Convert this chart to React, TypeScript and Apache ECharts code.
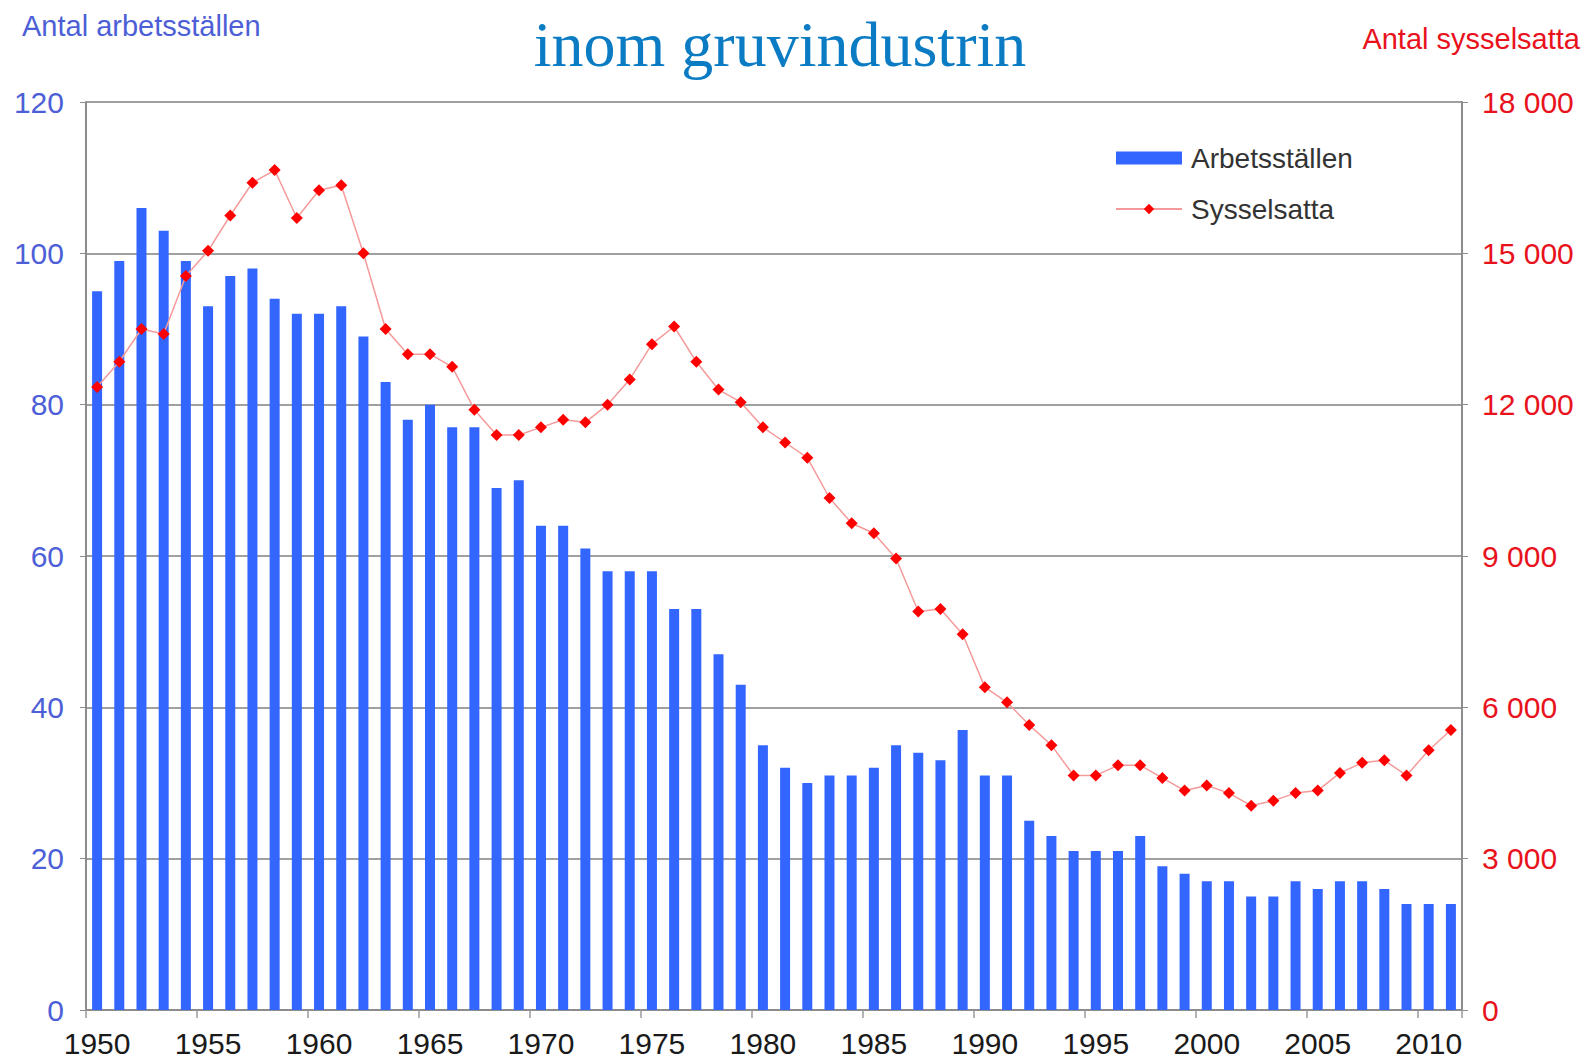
import { useEffect, useRef } from "react";
import * as echarts from "echarts";

const years = [
  "1950", "1951", "1952", "1953", "1954", "1955", "1956", "1957", "1958", "1959",
  "1960", "1961", "1962", "1963", "1964", "1965", "1966", "1967", "1968", "1969",
  "1970", "1971", "1972", "1973", "1974", "1975", "1976", "1977", "1978", "1979",
  "1980", "1981", "1982", "1983", "1984", "1985", "1986", "1987", "1988", "1989",
  "1990", "1991", "1992", "1993", "1994", "1995", "1996", "1997", "1998", "1999",
  "2000", "2001", "2002", "2003", "2004", "2005", "2006", "2007", "2008", "2009",
  "2010", "2011",
];

const arbetsstallen = [
  95, 99, 106, 103, 99, 93, 97, 98, 94, 92,
  92, 93, 89, 83, 78, 80, 77, 77, 69, 70,
  64, 64, 61, 58, 58, 58, 53, 53, 47, 43,
  35, 32, 30, 31, 31, 32, 35, 34, 33, 37,
  31, 31, 25, 23, 21, 21, 21, 23, 19, 18,
  17, 17, 15, 15, 17, 16, 17, 17, 16, 14,
  14, 14,
];

const sysselsatta = [
  12350, 12850, 13500, 13400, 14550, 15050, 15750, 16400, 16650, 15700,
  16250, 16350, 15000, 13500, 13000, 13000, 12750, 11900, 11400, 11400,
  11550, 11700, 11650, 12000, 12500, 13200, 13550, 12850, 12300, 12050,
  11550, 11250, 10950, 10150, 9650, 9450, 8950, 7900, 7950, 7450,
  6400, 6100, 5650, 5250, 4650, 4650, 4850, 4850, 4600, 4350,
  4450, 4300, 4050, 4150, 4300, 4350, 4700, 4900, 4950, 4650,
  5150, 5550,
];

const titleText = "inom gruvindustrin";
const leftAxisTitle = "Antal arbetsställen";
const rightAxisTitle = "Antal sysselsatta";
const barName = "Arbetsställen";
const lineName = "Sysselsatta";

const SANS = '"Liberation Sans", Arial, sans-serif';
const SERIF = '"Liberation Serif", "Times New Roman", serif';
const BLUE_LABEL = "#4d5fd6";
const RED_LABEL = "#e8121c";

export default function App() {
  const ref = useRef<HTMLDivElement | null>(null);

  useEffect(() => {
    document.body.style.margin = "0";
    if (!ref.current) return;
    const chart = echarts.init(ref.current, undefined, { renderer: "svg" });
    chart.setOption({
      animation: false,
      backgroundColor: "#ffffff",
      grid: { left: 86, right: 123, top: 102, bottom: 50, containLabel: false },
      graphic: [
        {
          type: "text",
          x: 780,
          y: 44,
          style: {
            text: titleText,
            fontFamily: SERIF,
            fontSize: 64,
            fill: "#0b7cc4",
            align: "center",
            verticalAlign: "middle",
          },
        },
        {
          type: "text",
          x: 22,
          y: 26,
          style: {
            text: leftAxisTitle,
            fontFamily: SANS,
            fontSize: 29,
            fill: BLUE_LABEL,
            align: "left",
            verticalAlign: "middle",
          },
        },
        {
          type: "text",
          x: 1580,
          y: 39,
          style: {
            text: rightAxisTitle,
            fontFamily: SANS,
            fontSize: 29,
            fill: RED_LABEL,
            align: "right",
            verticalAlign: "middle",
          },
        },
      ],
      legend: {
        orient: "vertical",
        left: 1110,
        top: 139,
        itemWidth: 66,
        itemHeight: 13,
        itemGap: 23,
        textStyle: { fontFamily: SANS, fontSize: 28, color: "#333333", padding: [0, 0, 0, 4] },
        data: [
          { name: barName, icon: "rect" },
          { name: lineName },
        ],
      },
      xAxis: {
        type: "category",
        data: years,
        boundaryGap: true,
        axisLine: { show: true, lineStyle: { color: "#8c8c8c", width: 2 } },
        axisTick: { show: true, interval: 4, length: 8, lineStyle: { color: "#9a9a9a", width: 1.5 } },
        axisLabel: {
          interval: 4,
          color: "#1a1a1a",
          fontFamily: SANS,
          fontSize: 30,
          margin: 18,
        },
      },
      yAxis: [
        {
          type: "value",
          position: "left",
          min: 0,
          max: 120,
          interval: 20,
          axisLine: { show: true, lineStyle: { color: "#8c8c8c", width: 2 } },
          axisTick: { show: true, length: 6, lineStyle: { color: "#8c8c8c" } },
          axisLabel: { color: BLUE_LABEL, fontFamily: SANS, fontSize: 30, margin: 22 },
          splitLine: { show: true, lineStyle: { color: "#a0a0a0", width: 2 } },
        },
        {
          type: "value",
          position: "right",
          min: 0,
          max: 18000,
          interval: 3000,
          axisLine: { show: true, lineStyle: { color: "#8c8c8c", width: 2 } },
          axisTick: { show: true, length: 6, lineStyle: { color: "#8c8c8c" } },
          axisLabel: {
            color: RED_LABEL,
            fontFamily: SANS,
            fontSize: 30,
            margin: 20,
            formatter: (v: number) => String(v).replace(/\B(?=(\d{3})+(?!\d))/g, " "),
          },
          splitLine: { show: false },
        },
      ],
      series: [
        {
          name: barName,
          type: "bar",
          data: arbetsstallen,
          barWidth: 10,
          itemStyle: { color: "#3366ff" },
        },
        {
          name: lineName,
          type: "line",
          yAxisIndex: 1,
          data: sysselsatta,
          symbol: "diamond",
          symbolSize: 12,
          lineStyle: { color: "#f59a9a", width: 1.5 },
          itemStyle: { color: "#ff0000" },
          z: 3,
        },
      ],
    });
    return () => chart.dispose();
  }, []);

  return <div ref={ref} style={{ width: 1585, height: 1060 }} />;
}
